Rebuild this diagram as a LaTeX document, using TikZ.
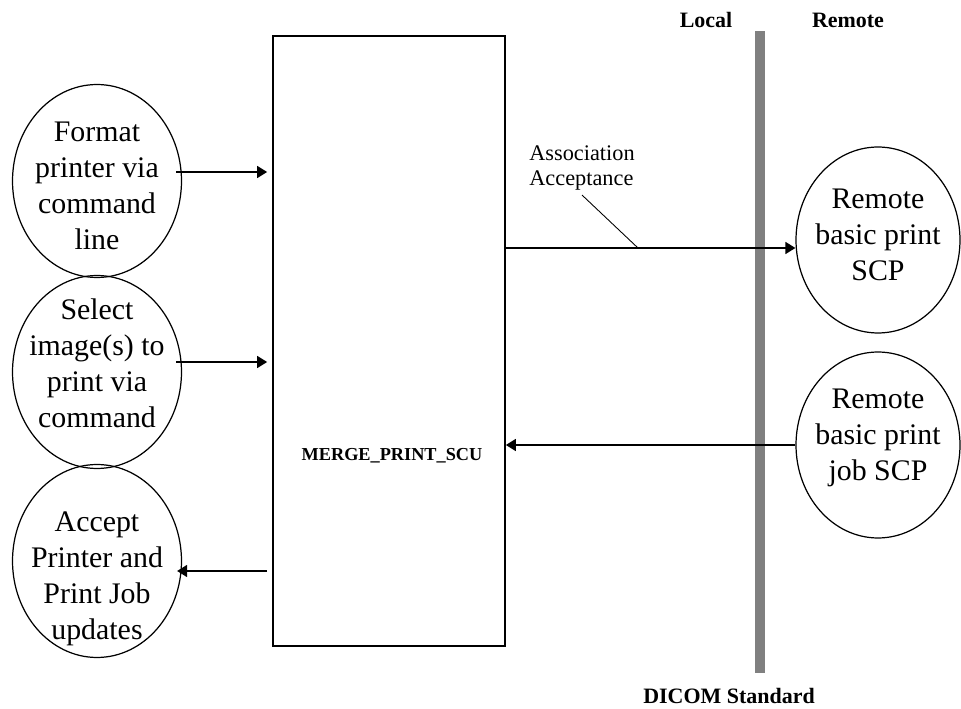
\documentclass[tikz,border=0pt]{standalone}
\usepackage{fontspec}
\setmainfont{Liberation Serif}
\usetikzlibrary{arrows.meta,shapes.geometric,positioning}
\definecolor{dicombar}{HTML}{808080}

\begin{document}
\begin{tikzpicture}[x=0.02cm, y=-0.02cm,
    blob/.style={draw, ellipse, line width=0.7pt, inner sep=0pt, minimum width=3.38cm, minimum height=3.86cm},
    blobtext/.style={align=center, inner sep=0pt, font=\fontsize{17}{20.5}\selectfont},
    flow/.style={-{Triangle[length=2mm,width=2.4mm]}, line width=0.85pt},
    side/.style={inner sep=0pt, anchor=base, font=\fontsize{12.5}{15}\selectfont\bfseries}]
    \useasboundingbox (0,0) rectangle (961,709);

    % DICOM boundary between local and remote
    \fill[dicombar] (755,31) rectangle (765,673);
    \node[side] (local) at (706,28) {Local};
    \node[side] (remote) at (848,28) {Remote};
    \node[side] (dicom) at (729,704) {DICOM Standard};

    % Application entity box
    \node[draw, line width=1pt, inner sep=0pt, minimum width=4.64cm, minimum height=12.2cm] (scu) at (389,341) {};
    \node[inner sep=0pt, anchor=base, font=\fontsize{10.4}{12}\selectfont\bfseries] (scuname) at (392,461) {MERGE\_PRINT\_SCU};

    % Local real-world activities
    \node[blob] (fmt) at (97,181) {};
    \node[blob] (sel) at (97,372) {};
    \node[blob] (acc) at (97,561) {};
    \node[blobtext] (fmttext) at ([yshift=-0.1cm]fmt.center) {Format\\printer via\\command\\line};
    \node[blobtext] (seltext) at ([yshift=0.18cm]sel.center) {Select\\image(s) to\\print via\\command};
    \node[blobtext] (acctext) at ([yshift=-0.36cm]acc.center) {Accept\\Printer and\\Print Job\\updates};

    % Remote activities
    \node[blob, minimum width=3.28cm, minimum height=3.72cm] (rprint) at (878,240) {};
    \node[blob, minimum width=3.28cm, minimum height=3.72cm] (rjob) at (878,445) {};
    \node[blobtext] (rprinttext) at ([yshift=0.1cm]rprint.center) {Remote\\basic print\\SCP};
    \node[blobtext] (rjobtext) at ([yshift=0.14cm]rjob.center) {Remote\\basic print\\job SCP};

    % Flows into and out of the SCU
    \draw[flow] ([shift={(-0.12cm,0.18cm)}]fmt.east) -- ([shift={(-0.1cm,0.18cm)}]fmt.east -| scu.west);
    \draw[flow] ([shift={(-0.12cm,0.2cm)}]sel.east) -- ([shift={(-0.1cm,0.2cm)}]sel.east -| scu.west);
    \draw[flow] ([shift={(-0.1cm,-0.2cm)}]acc.east -| scu.west) -- ([shift={(-0.1cm,-0.2cm)}]acc.east);
    \draw[flow] ([yshift=-0.16cm]rprint.west -| scu.east) -- ([yshift=-0.16cm]rprint.west);
    \draw[flow] (rjob.west) -- (rjob.west -| scu.east);

    % Association label
    \node[anchor=north west, align=left, inner sep=0pt, font=\fontsize{12.7}{14.7}\selectfont] (assoc) at (529,145) {Association\\Acceptance};
    \coordinate (tap) at (638,248);
    \draw[line width=0.5pt] ([yshift=-0.08cm]assoc.south) -- (tap);
\end{tikzpicture}
\end{document}
